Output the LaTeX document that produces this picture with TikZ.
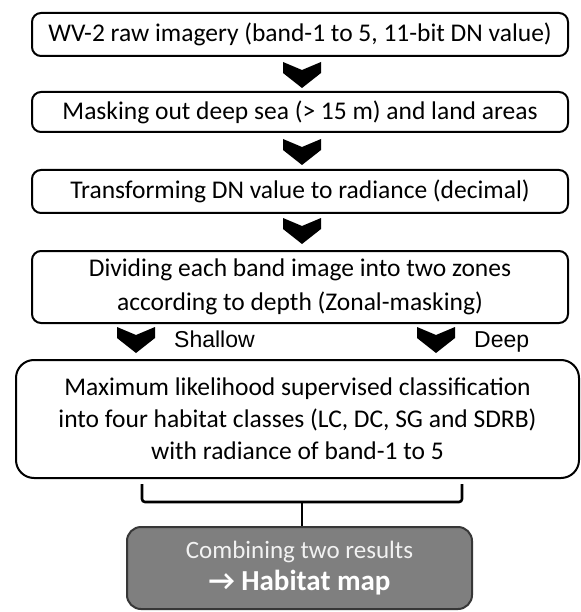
\documentclass[tikz,border=0pt]{standalone}
\usepackage{fontspec}
\setmainfont{Carlito}
\newfontfamily\arialf{Liberation Sans}
\definecolor{mapfill}{RGB}{127,127,127}
\definecolor{mapedge}{RGB}{55,55,55}
\definecolor{maptext}{RGB}{242,242,242}
\begin{document}
\begin{tikzpicture}[x=1pt,y=-1pt,
  box/.style={draw=black, line width=2pt, rounded corners=9pt, fill=white,
    align=center, inner sep=0pt, font=\fontsize{25.5}{34}\selectfont},
  bigbox/.style={box, rounded corners=18pt, font=\fontsize{25.5}{32}\selectfont},
  mapbox/.style={draw=mapedge, line width=2pt, rounded corners=14pt, fill=mapfill,
    align=center, inner sep=0pt, text=maptext, font=\fontsize{25}{32}\selectfont},
  zone/.style={font=\arialf\fontsize{23}{24}\selectfont, anchor=base west, inner sep=0pt},
  chevron/.pic={\fill[black] (-19,0) -- (0,8) -- (19,0) -- (19,11) -- (0,26) -- (-19,11) -- cycle;},
  brace/.style={line width=2.6pt, rounded corners=3pt}
]
\useasboundingbox (0,0) rectangle (580,612);
\fill[white] (0,0) rectangle (580,612);

\node[box, minimum width=536pt, minimum height=43pt] (b1) at (300,34.5)
  {WV-2 raw imagery (band-1 to 5, 11-bit DN value)};
\pic at (302,62) {chevron};
\node[box, minimum width=536pt, minimum height=40pt] (b2) at (300,112)
  {Masking out deep sea (> 15 m) and land areas};
\pic at (302,139) {chevron};
\node[box, minimum width=536pt, minimum height=43pt] (b3) at (300,191.5)
  {Transforming DN value to radiance (decimal)};
\pic at (302,218) {chevron};
\node[box, minimum width=536pt, minimum height=72pt] (b4) at (300,287)
  {Dividing each band image into two zones\\according to depth (Zonal-masking)};
\pic at (136,327) {chevron};
\node[zone] (shallow) at (174,347) {Shallow};
\pic at (436,327) {chevron};
\node[zone] (deep) at (474,347) {Deep};
\node[bigbox, minimum width=563pt, minimum height=118pt] (b5) at (297.5,419)
  {Maximum likelihood supervised classification\\into four habitat classes (LC, DC, SG and SDRB)\\with radiance of band-1 to 5};

\coordinate (bl) at (142,484);
\coordinate (br) at (462,484);
\coordinate (bm) at (302,502);
\node[mapbox, minimum width=345pt, minimum height=82pt] (b6) at (299.5,568)
  {Combining two results\\{\color{white}\bfseries\fontsize{29}{32}\selectfont → Habitat map}};
\draw[brace] (bl) -- (bl |- bm) -- (br |- bm) -- (br);
\draw[line width=2.6pt] (bm) -- (b6.north -| bm);
\end{tikzpicture}
\end{document}
